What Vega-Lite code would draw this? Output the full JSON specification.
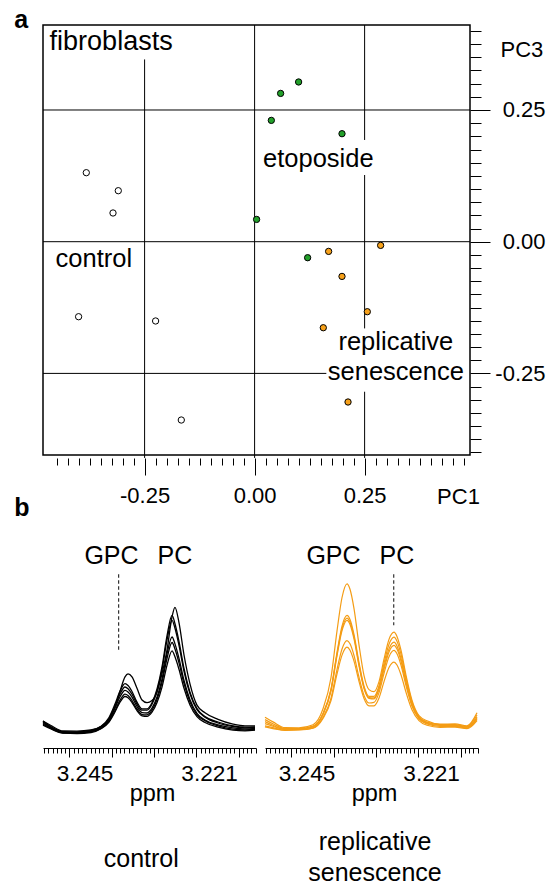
{
  "$schema": "https://vega.github.io/schema/vega-lite/v6.json",
  "padding": {"left": 13, "top": 6, "right": 0, "bottom": 0},
  "autosize": {"type": "pad"},
  "background": "white",
  "bounds": "flush",
  "spacing": 87,
  "config": {
    "font": "Liberation Sans",
    "view": {"stroke": null},
    "axis": {"labelFont": "Liberation Sans", "titleFont": "Liberation Sans", "labelColor": "black", "titleColor": "black", "tickColor": "black", "domainColor": "black", "titleFontWeight": "normal"}
  },
  "datasets": {
    "pts": [
      {"grp": "control", "x": -0.3825, "y": 0.131},
      {"grp": "control", "x": -0.3098, "y": 0.0968},
      {"grp": "control", "x": -0.3218, "y": 0.0545},
      {"grp": "control", "x": -0.4, "y": -0.1424},
      {"grp": "control", "x": -0.225, "y": -0.1505},
      {"grp": "control", "x": -0.1666, "y": -0.3385},
      {"grp": "etoposide", "x": 0.1, "y": 0.3032},
      {"grp": "etoposide", "x": 0.0591, "y": 0.2815},
      {"grp": "etoposide", "x": 0.038, "y": 0.2303},
      {"grp": "etoposide", "x": 0.1986, "y": 0.205},
      {"grp": "etoposide", "x": 0.0045, "y": 0.0423},
      {"grp": "etoposide", "x": 0.1205, "y": -0.0304},
      {"grp": "replicative senescence", "x": 0.2864, "y": -0.007},
      {"grp": "replicative senescence", "x": 0.1682, "y": -0.0184},
      {"grp": "replicative senescence", "x": 0.1986, "y": -0.0659},
      {"grp": "replicative senescence", "x": 0.2561, "y": -0.1329},
      {"grp": "replicative senescence", "x": 0.1561, "y": -0.1633},
      {"grp": "replicative senescence", "x": 0.2123, "y": -0.3043}
    ],
    "ctrl": [
      {"s":"c1","p":3.253,"i":27},{"s":"c1","p":3.25146,"i":22.5},{"s":"c1","p":3.24915,"i":17},{"s":"c1","p":3.24645,"i":16.9},{"s":"c1","p":3.24375,"i":18},{"s":"c1","p":3.24182,"i":21.4},{"s":"c1","p":3.24028,"i":28.1},{"s":"c1","p":3.23913,"i":40.7},{"s":"c1","p":3.23816,"i":56.7},{"s":"c1","p":3.2372,"i":71.1},{"s":"c1","p":3.23662,"i":74.2},{"s":"c1","p":3.23585,"i":71.2},{"s":"c1","p":3.23489,"i":59.8},{"s":"c1","p":3.23392,"i":48},{"s":"c1","p":3.23296,"i":45.3},{"s":"c1","p":3.232,"i":47.4},{"s":"c1","p":3.23103,"i":55.8},{"s":"c1","p":3.23007,"i":74.4},{"s":"c1","p":3.22911,"i":98},{"s":"c1","p":3.22814,"i":131.1},{"s":"c1","p":3.22757,"i":140.7},{"s":"c1","p":3.2268,"i":125.4},{"s":"c1","p":3.22583,"i":93},{"s":"c1","p":3.22468,"i":64.2},{"s":"c1","p":3.22333,"i":42.9},{"s":"c1","p":3.22179,"i":35.2},{"s":"c1","p":3.21928,"i":28.6},{"s":"c1","p":3.21639,"i":23.9},{"s":"c1","p":3.21408,"i":22.1},{"s":"c1","p":3.21215,"i":22.1},
      {"s":"c2","p":3.253,"i":27.1},{"s":"c2","p":3.25146,"i":21.4},{"s":"c2","p":3.24915,"i":16.4},{"s":"c2","p":3.24645,"i":16.2},{"s":"c2","p":3.24375,"i":17.6},{"s":"c2","p":3.24182,"i":21.7},{"s":"c2","p":3.24028,"i":30.5},{"s":"c2","p":3.23913,"i":43.9},{"s":"c2","p":3.23816,"i":56.9},{"s":"c2","p":3.2372,"i":64.3},{"s":"c2","p":3.23662,"i":62.5},{"s":"c2","p":3.23585,"i":56.5},{"s":"c2","p":3.23489,"i":45.9},{"s":"c2","p":3.23392,"i":39.2},{"s":"c2","p":3.23296,"i":39.1},{"s":"c2","p":3.232,"i":45.2},{"s":"c2","p":3.23103,"i":59},{"s":"c2","p":3.23007,"i":81.1},{"s":"c2","p":3.22911,"i":112.2},{"s":"c2","p":3.22814,"i":132.7},{"s":"c2","p":3.22757,"i":124.3},{"s":"c2","p":3.2268,"i":106.6},{"s":"c2","p":3.22583,"i":79.5},{"s":"c2","p":3.22468,"i":55.9},{"s":"c2","p":3.22333,"i":39.3},{"s":"c2","p":3.22179,"i":31.6},{"s":"c2","p":3.21928,"i":26},{"s":"c2","p":3.21639,"i":22.2},{"s":"c2","p":3.21408,"i":20.9},{"s":"c2","p":3.21215,"i":21.1},
      {"s":"c3","p":3.253,"i":26.1},{"s":"c3","p":3.25146,"i":20.8},{"s":"c3","p":3.24915,"i":15.8},{"s":"c3","p":3.24645,"i":15.5},{"s":"c3","p":3.24375,"i":16.8},{"s":"c3","p":3.24182,"i":21.2},{"s":"c3","p":3.24028,"i":29.4},{"s":"c3","p":3.23913,"i":41.9},{"s":"c3","p":3.23816,"i":54},{"s":"c3","p":3.2372,"i":61},{"s":"c3","p":3.23662,"i":59.3},{"s":"c3","p":3.23585,"i":53.8},{"s":"c3","p":3.23489,"i":43.9},{"s":"c3","p":3.23392,"i":37.8},{"s":"c3","p":3.23296,"i":37.8},{"s":"c3","p":3.232,"i":43.7},{"s":"c3","p":3.23103,"i":57},{"s":"c3","p":3.23007,"i":78.2},{"s":"c3","p":3.22911,"i":107.9},{"s":"c3","p":3.22814,"i":127.7},{"s":"c3","p":3.22757,"i":119.7},{"s":"c3","p":3.2268,"i":102.7},{"s":"c3","p":3.22583,"i":76.7},{"s":"c3","p":3.22468,"i":54.1},{"s":"c3","p":3.22333,"i":38.3},{"s":"c3","p":3.22179,"i":30.8},{"s":"c3","p":3.21928,"i":25},{"s":"c3","p":3.21639,"i":21.5},{"s":"c3","p":3.21408,"i":20.2},{"s":"c3","p":3.21215,"i":20.5},
      {"s":"c4","p":3.253,"i":25},{"s":"c4","p":3.25146,"i":20.2},{"s":"c4","p":3.24915,"i":15.6},{"s":"c4","p":3.24645,"i":15.3},{"s":"c4","p":3.24375,"i":16.4},{"s":"c4","p":3.24182,"i":20.6},{"s":"c4","p":3.24028,"i":28.2},{"s":"c4","p":3.23913,"i":40},{"s":"c4","p":3.23816,"i":51.2},{"s":"c4","p":3.2372,"i":57.7},{"s":"c4","p":3.23662,"i":56.1},{"s":"c4","p":3.23585,"i":50.9},{"s":"c4","p":3.23489,"i":41.5},{"s":"c4","p":3.23392,"i":35.4},{"s":"c4","p":3.23296,"i":35},{"s":"c4","p":3.232,"i":39.8},{"s":"c4","p":3.23103,"i":51},{"s":"c4","p":3.23007,"i":68.9},{"s":"c4","p":3.22911,"i":94.2},{"s":"c4","p":3.22814,"i":111},{"s":"c4","p":3.22757,"i":104.1},{"s":"c4","p":3.2268,"i":89.6},{"s":"c4","p":3.22583,"i":67.5},{"s":"c4","p":3.22468,"i":48.3},{"s":"c4","p":3.22333,"i":34.7},{"s":"c4","p":3.22179,"i":28},{"s":"c4","p":3.21928,"i":23.1},{"s":"c4","p":3.21639,"i":20.2},{"s":"c4","p":3.21408,"i":19.1},{"s":"c4","p":3.21215,"i":19.6},
      {"s":"c5","p":3.253,"i":23.9},{"s":"c5","p":3.25146,"i":19.6},{"s":"c5","p":3.24915,"i":15},{"s":"c5","p":3.24645,"i":15.1},{"s":"c5","p":3.24375,"i":16.2},{"s":"c5","p":3.24182,"i":19.6},{"s":"c5","p":3.24028,"i":26.7},{"s":"c5","p":3.23913,"i":37.4},{"s":"c5","p":3.23816,"i":47.9},{"s":"c5","p":3.2372,"i":53.8},{"s":"c5","p":3.23662,"i":52.4},{"s":"c5","p":3.23585,"i":47.5},{"s":"c5","p":3.23489,"i":39},{"s":"c5","p":3.23392,"i":33.4},{"s":"c5","p":3.23296,"i":33.2},{"s":"c5","p":3.232,"i":37.8},{"s":"c5","p":3.23103,"i":48.5},{"s":"c5","p":3.23007,"i":65.5},{"s":"c5","p":3.22911,"i":89.5},{"s":"c5","p":3.22814,"i":105.5},{"s":"c5","p":3.22757,"i":99},{"s":"c5","p":3.2268,"i":85.2},{"s":"c5","p":3.22583,"i":64.3},{"s":"c5","p":3.22468,"i":46},{"s":"c5","p":3.22333,"i":33.2},{"s":"c5","p":3.22179,"i":27.3},{"s":"c5","p":3.21928,"i":22.1},{"s":"c5","p":3.21639,"i":18.8},{"s":"c5","p":3.21408,"i":18},{"s":"c5","p":3.21215,"i":18.5},
      {"s":"c6","p":3.253,"i":22.8},{"s":"c6","p":3.25146,"i":19},{"s":"c6","p":3.24915,"i":14.9},{"s":"c6","p":3.24645,"i":14.5},{"s":"c6","p":3.24375,"i":15.5},{"s":"c6","p":3.24182,"i":19.3},{"s":"c6","p":3.24028,"i":25.9},{"s":"c6","p":3.23913,"i":36},{"s":"c6","p":3.23816,"i":45.9},{"s":"c6","p":3.2372,"i":51.5},{"s":"c6","p":3.23662,"i":50.2},{"s":"c6","p":3.23585,"i":45.5},{"s":"c6","p":3.23489,"i":37.3},{"s":"c6","p":3.23392,"i":32.1},{"s":"c6","p":3.23296,"i":31.6},{"s":"c6","p":3.232,"i":35.8},{"s":"c6","p":3.23103,"i":45.4},{"s":"c6","p":3.23007,"i":60.9},{"s":"c6","p":3.22911,"i":82.7},{"s":"c6","p":3.22814,"i":97.2},{"s":"c6","p":3.22757,"i":91.2},{"s":"c6","p":3.2268,"i":78.7},{"s":"c6","p":3.22583,"i":59.7},{"s":"c6","p":3.22468,"i":43.1},{"s":"c6","p":3.22333,"i":31.4},{"s":"c6","p":3.22179,"i":25.5},{"s":"c6","p":3.21928,"i":20.9},{"s":"c6","p":3.21639,"i":17.9},{"s":"c6","p":3.21408,"i":17.1},{"s":"c6","p":3.21215,"i":17.8}
    ],
    "sen": [
      {"s":"s1","p":3.253,"i":30.8},{"s":"s1","p":3.25146,"i":26.1},{"s":"s1","p":3.24915,"i":20.3},{"s":"s1","p":3.24645,"i":20.2},{"s":"s1","p":3.24375,"i":23.2},{"s":"s1","p":3.24182,"i":39.2},{"s":"s1","p":3.24028,"i":70.5},{"s":"s1","p":3.23913,"i":116.9},{"s":"s1","p":3.23816,"i":150.5},{"s":"s1","p":3.2372,"i":164.2},{"s":"s1","p":3.23662,"i":158.7},{"s":"s1","p":3.23585,"i":139.3},{"s":"s1","p":3.23489,"i":103.2},{"s":"s1","p":3.23392,"i":72.4},{"s":"s1","p":3.23296,"i":58.4},{"s":"s1","p":3.232,"i":56.3},{"s":"s1","p":3.23103,"i":66.4},{"s":"s1","p":3.23007,"i":88.8},{"s":"s1","p":3.22911,"i":108.6},{"s":"s1","p":3.22814,"i":115.8},{"s":"s1","p":3.22757,"i":111.5},{"s":"s1","p":3.2268,"i":97.8},{"s":"s1","p":3.22583,"i":72.7},{"s":"s1","p":3.22468,"i":47.8},{"s":"s1","p":3.22333,"i":32.3},{"s":"s1","p":3.22179,"i":27.2},{"s":"s1","p":3.21928,"i":23.9},{"s":"s1","p":3.21639,"i":24.1},{"s":"s1","p":3.21408,"i":22.2},{"s":"s1","p":3.21215,"i":35.2},
      {"s":"s2","p":3.253,"i":28.4},{"s":"s2","p":3.25146,"i":24.2},{"s":"s2","p":3.24915,"i":19.4},{"s":"s2","p":3.24645,"i":19.5},{"s":"s2","p":3.24375,"i":21.9},{"s":"s2","p":3.24182,"i":34.5},{"s":"s2","p":3.24028,"i":59.1},{"s":"s2","p":3.23913,"i":95.5},{"s":"s2","p":3.23816,"i":121.9},{"s":"s2","p":3.2372,"i":132.6},{"s":"s2","p":3.23662,"i":128.5},{"s":"s2","p":3.23585,"i":113.3},{"s":"s2","p":3.23489,"i":85.5},{"s":"s2","p":3.23392,"i":61.8},{"s":"s2","p":3.23296,"i":51.6},{"s":"s2","p":3.232,"i":51.6},{"s":"s2","p":3.23103,"i":62.4},{"s":"s2","p":3.23007,"i":84.5},{"s":"s2","p":3.22911,"i":103.7},{"s":"s2","p":3.22814,"i":110.9},{"s":"s2","p":3.22757,"i":106.8},{"s":"s2","p":3.2268,"i":93.8},{"s":"s2","p":3.22583,"i":69.8},{"s":"s2","p":3.22468,"i":46},{"s":"s2","p":3.22333,"i":31.2},{"s":"s2","p":3.22179,"i":26},{"s":"s2","p":3.21928,"i":23.5},{"s":"s2","p":3.21639,"i":23.3},{"s":"s2","p":3.21408,"i":21.4},{"s":"s2","p":3.21215,"i":33},
      {"s":"s3","p":3.253,"i":26.4},{"s":"s3","p":3.25146,"i":22.7},{"s":"s3","p":3.24915,"i":18.8},{"s":"s3","p":3.24645,"i":18.8},{"s":"s3","p":3.24375,"i":21.2},{"s":"s3","p":3.24182,"i":34.1},{"s":"s3","p":3.24028,"i":58.1},{"s":"s3","p":3.23913,"i":93.7},{"s":"s3","p":3.23816,"i":119.4},{"s":"s3","p":3.2372,"i":129.9},{"s":"s3","p":3.23662,"i":125.9},{"s":"s3","p":3.23585,"i":111.1},{"s":"s3","p":3.23489,"i":83.7},{"s":"s3","p":3.23392,"i":60.5},{"s":"s3","p":3.23296,"i":50.4},{"s":"s3","p":3.232,"i":50.1},{"s":"s3","p":3.23103,"i":60.2},{"s":"s3","p":3.23007,"i":81},{"s":"s3","p":3.22911,"i":99.1},{"s":"s3","p":3.22814,"i":105.9},{"s":"s3","p":3.22757,"i":102.1},{"s":"s3","p":3.2268,"i":89.7},{"s":"s3","p":3.22583,"i":67.1},{"s":"s3","p":3.22468,"i":44.4},{"s":"s3","p":3.22333,"i":30.5},{"s":"s3","p":3.22179,"i":25.6},{"s":"s3","p":3.21928,"i":23.2},{"s":"s3","p":3.21639,"i":22.6},{"s":"s3","p":3.21408,"i":20.8},{"s":"s3","p":3.21215,"i":30.9},
      {"s":"s4","p":3.253,"i":24.4},{"s":"s4","p":3.25146,"i":21.7},{"s":"s4","p":3.24915,"i":18.7},{"s":"s4","p":3.24645,"i":18.8},{"s":"s4","p":3.24375,"i":21},{"s":"s4","p":3.24182,"i":33.7},{"s":"s4","p":3.24028,"i":57.2},{"s":"s4","p":3.23913,"i":92.1},{"s":"s4","p":3.23816,"i":117.3},{"s":"s4","p":3.2372,"i":127.6},{"s":"s4","p":3.23662,"i":123.6},{"s":"s4","p":3.23585,"i":109.1},{"s":"s4","p":3.23489,"i":82.2},{"s":"s4","p":3.23392,"i":59.5},{"s":"s4","p":3.23296,"i":49.6},{"s":"s4","p":3.232,"i":49.1},{"s":"s4","p":3.23103,"i":58.7},{"s":"s4","p":3.23007,"i":78.7},{"s":"s4","p":3.22911,"i":96.1},{"s":"s4","p":3.22814,"i":102.6},{"s":"s4","p":3.22757,"i":98.9},{"s":"s4","p":3.2268,"i":87},{"s":"s4","p":3.22583,"i":65.2},{"s":"s4","p":3.22468,"i":43.5},{"s":"s4","p":3.22333,"i":30},{"s":"s4","p":3.22179,"i":24.7},{"s":"s4","p":3.21928,"i":22.6},{"s":"s4","p":3.21639,"i":22.5},{"s":"s4","p":3.21408,"i":20.8},{"s":"s4","p":3.21215,"i":29.7},
      {"s":"s5","p":3.253,"i":22.2},{"s":"s5","p":3.25146,"i":20.4},{"s":"s5","p":3.24915,"i":17.9},{"s":"s5","p":3.24645,"i":18.3},{"s":"s5","p":3.24375,"i":20.2},{"s":"s5","p":3.24182,"i":30.7},{"s":"s5","p":3.24028,"i":49.9},{"s":"s5","p":3.23913,"i":78.4},{"s":"s5","p":3.23816,"i":99},{"s":"s5","p":3.2372,"i":107.4},{"s":"s5","p":3.23662,"i":104.2},{"s":"s5","p":3.23585,"i":92.5},{"s":"s5","p":3.23489,"i":70.8},{"s":"s5","p":3.23392,"i":52.5},{"s":"s5","p":3.23296,"i":45},{"s":"s5","p":3.232,"i":45.6},{"s":"s5","p":3.23103,"i":55.4},{"s":"s5","p":3.23007,"i":74.6},{"s":"s5","p":3.22911,"i":91.3},{"s":"s5","p":3.22814,"i":97.6},{"s":"s5","p":3.22757,"i":94.2},{"s":"s5","p":3.2268,"i":82.9},{"s":"s5","p":3.22583,"i":62.3},{"s":"s5","p":3.22468,"i":41.7},{"s":"s5","p":3.22333,"i":29.1},{"s":"s5","p":3.22179,"i":24.1},{"s":"s5","p":3.21928,"i":21.7},{"s":"s5","p":3.21639,"i":21.7},{"s":"s5","p":3.21408,"i":20},{"s":"s5","p":3.21215,"i":28.6},
      {"s":"s6","p":3.253,"i":21.1},{"s":"s6","p":3.25146,"i":19.3},{"s":"s6","p":3.24915,"i":17.7},{"s":"s6","p":3.24645,"i":18},{"s":"s6","p":3.24375,"i":19.8},{"s":"s6","p":3.24182,"i":29.6},{"s":"s6","p":3.24028,"i":47.4},{"s":"s6","p":3.23913,"i":73.9},{"s":"s6","p":3.23816,"i":92.9},{"s":"s6","p":3.2372,"i":100.8},{"s":"s6","p":3.23662,"i":97.7},{"s":"s6","p":3.23585,"i":86.8},{"s":"s6","p":3.23489,"i":66.6},{"s":"s6","p":3.23392,"i":49.5},{"s":"s6","p":3.23296,"i":42.1},{"s":"s6","p":3.232,"i":42.2},{"s":"s6","p":3.23103,"i":50.1},{"s":"s6","p":3.23007,"i":66.4},{"s":"s6","p":3.22911,"i":80.5},{"s":"s6","p":3.22814,"i":85.9},{"s":"s6","p":3.22757,"i":83},{"s":"s6","p":3.2268,"i":73.3},{"s":"s6","p":3.22583,"i":55.7},{"s":"s6","p":3.22468,"i":38.2},{"s":"s6","p":3.22333,"i":27.4},{"s":"s6","p":3.22179,"i":22.7},{"s":"s6","p":3.21928,"i":20.6},{"s":"s6","p":3.21639,"i":20.9},{"s":"s6","p":3.21408,"i":19.3},{"s":"s6","p":3.21215,"i":27.4}
    ]
  },
  "vconcat": [
    {
      "width": 427,
      "height": 430,
      "view": {"stroke": "black", "strokeWidth": 1.5},
      "encoding": {
        "x": {
          "field": "x", "type": "quantitative",
          "scale": {"domain": [-0.4809, 0.4895], "nice": false, "zero": false},
          "axis": {
            "orient": "bottom", "offset": 3, "domain": false, "grid": false,
            "values": [-0.45,-0.425,-0.4,-0.375,-0.35,-0.325,-0.3,-0.275,-0.25,-0.225,-0.2,-0.175,-0.15,-0.125,-0.1,-0.075,-0.05,-0.025,0,0.025,0.05,0.075,0.1,0.125,0.15,0.175,0.2,0.225,0.25,0.275,0.3,0.325,0.35,0.375,0.4,0.425,0.45,0.475],
            "tickSize": {"condition": {"test": "datum.value == -0.25 || datum.value == 0 || datum.value == 0.25", "value": 17}, "value": 7},
            "tickWidth": 1,
            "labelExpr": "datum.value == 0 ? '0.00' : datum.value == 0.25 ? '0.25' : datum.value == -0.25 ? '-0.25' : ''",
            "labelFontSize": 22, "labelPadding": 10.7, "labelOverlap": false, "labelFlush": false, "labelBound": false,
            "title": "PC1", "titleFontSize": 22, "titleX": 415, "titleY": 38, "titleAlign": "center", "titleBaseline": "middle", "titleAngle": 0
          }
        },
        "y": {
          "field": "y", "type": "quantitative",
          "scale": {"domain": [-0.4049, 0.41135], "nice": false, "zero": false},
          "axis": {
            "orient": "right", "domain": false, "grid": false,
            "values": [-0.4,-0.375,-0.35,-0.325,-0.3,-0.275,-0.25,-0.225,-0.2,-0.175,-0.15,-0.125,-0.1,-0.075,-0.05,-0.025,0,0.025,0.05,0.075,0.1,0.125,0.15,0.175,0.2,0.225,0.25,0.275,0.3,0.325,0.35,0.375,0.4],
            "tickSize": {"condition": {"test": "datum.value == -0.25 || datum.value == 0 || datum.value == 0.25", "value": 20}, "value": 11},
            "tickWidth": 1,
            "labelExpr": "datum.value == 0 ? '0.00' : datum.value == 0.25 ? '0.25' : datum.value == -0.25 ? '-0.25' : ''",
            "labelFontSize": 22, "labelAlign": "right", "labelBaseline": "middle", "labelPadding": 55, "labelOverlap": false, "labelFlush": false, "labelBound": false,
            "title": "PC3", "titleFontSize": 22, "titleX": 30, "titleY": 24, "titleAlign": "left", "titleBaseline": "middle", "titleAngle": 0
          }
        }
      },
      "layer": [
        {
          "data": {"values": [
            {"x": -0.25, "y": 0.346, "y2": -0.4105},
            {"x": 0, "y": 0.41135, "y2": -0.4105},
            {"x": 0.25, "y": 0.41135, "y2": 0.1931},
            {"x": 0.25, "y": 0.1266, "y2": -0.1646},
            {"x": 0.25, "y": -0.2848, "y2": -0.4105}
          ]},
          "mark": {"type": "rule", "color": "black", "strokeWidth": 1},
          "encoding": {"y2": {"field": "y2"}}
        },
        {
          "data": {"values": [
            {"y": 0.25, "x": -0.4809, "x2": 0.4895},
            {"y": 0, "x": -0.4809, "x2": 0.4895},
            {"y": -0.25, "x": -0.4809, "x2": 0.163}
          ]},
          "mark": {"type": "rule", "color": "black", "strokeWidth": 1},
          "encoding": {"x2": {"field": "x2"}}
        },
        {
          "data": {"name": "pts"},
          "mark": {"type": "circle", "stroke": "black", "strokeWidth": 1, "opacity": 1, "size": 40},
          "encoding": {
            "fill": {"field": "grp", "type": "nominal", "legend": null,
              "scale": {"domain": ["control", "etoposide", "replicative senescence"], "range": ["white", "#22a02a", "#f7a11a"]}}
          }
        },
        {
          "data": {"values": [{"x": -0.4659, "y": 0.3639, "t": "fibroblasts"}]},
          "mark": {"type": "text", "align": "left", "baseline": "alphabetic", "fontSize": 27, "color": "black"},
          "encoding": {"text": {"field": "t"}}
        },
        {
          "data": {"values": [{"x": -0.4523, "y": -0.0488, "t": "control"}]},
          "mark": {"type": "text", "align": "left", "baseline": "alphabetic", "fontSize": 25.5, "color": "black"},
          "encoding": {"text": {"field": "t"}}
        },
        {
          "data": {"values": [
            {"x": 0.1448, "y": 0.1424, "t": "etoposide"},
            {"x": 0.321, "y": -0.2056, "t": "replicative"},
            {"x": 0.321, "y": -0.2625, "t": "senescence"}
          ]},
          "mark": {"type": "text", "align": "center", "baseline": "alphabetic", "fontSize": 25.5, "color": "black"},
          "encoding": {"text": {"field": "t"}}
        },
        {
          "data": {"values": [{"x": -0.5461, "y": 0.4062, "t": "a"}]},
          "mark": {"type": "text", "align": "left", "baseline": "alphabetic", "fontSize": 25, "fontWeight": "bold", "color": "black"},
          "encoding": {"text": {"field": "t"}}
        }
      ]
    },
    {
      "bounds": "flush",
      "spacing": 9,
      "hconcat": [
        {
          "width": 213,
          "height": 206,
          "encoding": {
            "x": {
              "field": "p", "type": "quantitative",
              "scale": {"domain": [3.21196, 3.253], "reverse": true, "nice": false, "zero": false},
              "axis": {
                "orient": "bottom", "domain": true, "domainWidth": 1, "grid": false,
                "values": [3.25279,3.251975,3.25116,3.250345,3.24953,3.248715,3.2479,3.247085,3.24627,3.245455,3.24464,3.243825,3.24301,3.242195,3.24138,3.240565,3.23975,3.238935,3.23812,3.237305,3.23649,3.235675,3.23486,3.234045,3.23323,3.232415,3.2316,3.230785,3.22997,3.229155,3.22834,3.227525,3.22671,3.225895,3.22508,3.224265,3.22345,3.222635,3.22182,3.221005,3.22019,3.219375,3.21856,3.217745,3.21693,3.216115,3.2153,3.214485,3.21367,3.212855,3.21204,3.245,3.221],
                "tickSize": {"condition": {"test": "datum.value == 3.2479 || datum.value == 3.23975 || datum.value == 3.2316 || datum.value == 3.22345 || datum.value == 3.2153 || datum.value == 3.245 || datum.value == 3.221", "value": 9}, "value": 5},
                "tickOpacity": {"condition": {"test": "datum.value == 3.245 || datum.value == 3.221", "value": 0}, "value": 1},
                "tickWidth": 1,
                "labelExpr": "datum.value == 3.245 ? '3.245' : datum.value == 3.221 ? '3.221' : ''",
                "labelFontSize": 22.6, "labelPadding": 5, "labelOverlap": false, "labelFlush": false, "labelBound": false,
                "title": "ppm", "titleFontSize": 23.5, "titleX": 109, "titleY": 52.7, "titleAlign": "center", "titleBaseline": "alphabetic", "titleAngle": 0
              }
            },
            "y": {"field": "i", "type": "quantitative", "scale": {"domain": [0, 206], "nice": false, "zero": false}, "axis": null}
          },
          "layer": [
            {
              "data": {"name": "ctrl"},
              "mark": {"type": "line", "color": "black", "strokeWidth": 1.3, "interpolate": "monotone"},
              "encoding": {"detail": {"field": "s", "type": "nominal"}}
            },
            {
              "data": {"values": [{"p": 3.23843, "i": 173.7, "i2": 96}]},
              "mark": {"type": "rule", "color": "#333333", "strokeWidth": 1.2, "strokeDash": [3.5, 2.5]},
              "encoding": {"y2": {"field": "i2"}}
            },
            {
              "data": {"values": [
                {"p": 3.2398, "i": 183.7, "t": "GPC"},
                {"p": 3.2276, "i": 183.7, "t": "PC"},
                {"p": 3.23406, "i": -119.3, "t": "control"}
              ]},
              "mark": {"type": "text", "align": "center", "baseline": "alphabetic", "fontSize": 25, "color": "black"},
              "encoding": {"text": {"field": "t"}}
            },
            {
              "data": {"values": [{"p": 3.25853, "i": 232, "t": "b"}]},
              "mark": {"type": "text", "align": "left", "baseline": "alphabetic", "fontSize": 25, "fontWeight": "bold", "color": "black"},
              "encoding": {"text": {"field": "t"}}
            }
          ]
        },
        {
          "width": 213,
          "height": 206,
          "encoding": {
            "x": {
              "field": "p", "type": "quantitative",
              "scale": {"domain": [3.21196, 3.253], "reverse": true, "nice": false, "zero": false},
              "axis": {
                "orient": "bottom", "domain": true, "domainWidth": 1, "grid": false,
                "values": [3.25279,3.251975,3.25116,3.250345,3.24953,3.248715,3.2479,3.247085,3.24627,3.245455,3.24464,3.243825,3.24301,3.242195,3.24138,3.240565,3.23975,3.238935,3.23812,3.237305,3.23649,3.235675,3.23486,3.234045,3.23323,3.232415,3.2316,3.230785,3.22997,3.229155,3.22834,3.227525,3.22671,3.225895,3.22508,3.224265,3.22345,3.222635,3.22182,3.221005,3.22019,3.219375,3.21856,3.217745,3.21693,3.216115,3.2153,3.214485,3.21367,3.212855,3.21204,3.245,3.221],
                "tickSize": {"condition": {"test": "datum.value == 3.2479 || datum.value == 3.23975 || datum.value == 3.2316 || datum.value == 3.22345 || datum.value == 3.2153 || datum.value == 3.245 || datum.value == 3.221", "value": 9}, "value": 5},
                "tickOpacity": {"condition": {"test": "datum.value == 3.245 || datum.value == 3.221", "value": 0}, "value": 1},
                "tickWidth": 1,
                "labelExpr": "datum.value == 3.245 ? '3.245' : datum.value == 3.221 ? '3.221' : ''",
                "labelFontSize": 22.6, "labelPadding": 5, "labelOverlap": false, "labelFlush": false, "labelBound": false,
                "title": "ppm", "titleFontSize": 23.5, "titleX": 109, "titleY": 52.7, "titleAlign": "center", "titleBaseline": "alphabetic", "titleAngle": 0
              }
            },
            "y": {"field": "i", "type": "quantitative", "scale": {"domain": [0, 206], "nice": false, "zero": false}, "axis": null}
          },
          "layer": [
            {
              "data": {"name": "sen"},
              "mark": {"type": "line", "color": "#f49c14", "strokeWidth": 1.2, "interpolate": "monotone"},
              "encoding": {"detail": {"field": "s", "type": "nominal"}}
            },
            {
              "data": {"values": [{"p": 3.2282, "i": 173.7, "i2": 122.7}]},
              "mark": {"type": "rule", "color": "#333333", "strokeWidth": 1.2, "strokeDash": [3.5, 2.5]},
              "encoding": {"y2": {"field": "i2"}}
            },
            {
              "data": {"values": [
                {"p": 3.2398, "i": 183.7, "t": "GPC"},
                {"p": 3.2276, "i": 183.7, "t": "PC"},
                {"p": 3.2318, "i": -101.8, "t": "replicative"},
                {"p": 3.2318, "i": -133.2, "t": "senescence"}
              ]},
              "mark": {"type": "text", "align": "center", "baseline": "alphabetic", "fontSize": 25, "color": "black"},
              "encoding": {"text": {"field": "t"}}
            }
          ]
        }
      ]
    }
  ]
}
